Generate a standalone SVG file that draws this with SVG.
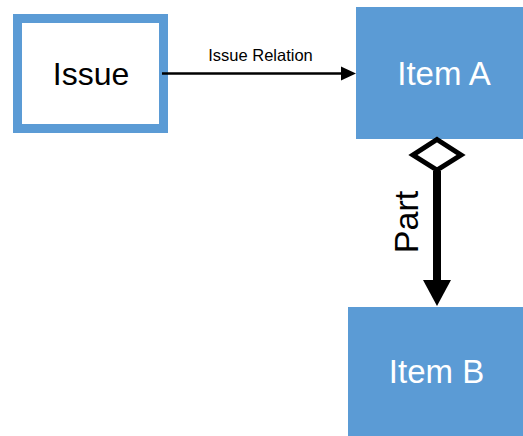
<svg xmlns="http://www.w3.org/2000/svg" width="523" height="436" viewBox="0 0 523 436">
<style>
.blue{fill:#5B9BD5}
.lbl{font-family:"Liberation Sans",Arial,sans-serif;text-anchor:middle}
</style>
<rect width="523" height="436" fill="#ffffff"/>
<g id="issue">
<rect x="17.5" y="18.5" width="146" height="110" fill="#ffffff" stroke="#5B9BD5" stroke-width="9"/>
<text class="lbl" x="91" y="85" font-size="32" fill="#000000">Issue</text>
</g>
<g id="itemA">
<rect class="blue" x="356" y="7" width="170" height="132"/>
<text class="lbl" x="444" y="85" font-size="33" fill="#ffffff">Item A</text>
</g>
<g id="itemB">
<rect class="blue" x="348" y="307" width="180" height="132"/>
<text class="lbl" x="436.5" y="383" font-size="33" fill="#ffffff">Item B</text>
</g>
<g id="connectors">
<line x1="162" y1="73.5" x2="343" y2="73.5" stroke="#000" stroke-width="2.5"/>
<polygon points="341,66.5 356,73.5 341,80.5" fill="#000"/>
<text class="lbl" x="260.5" y="61" font-size="16.5" fill="#000">Issue Relation</text>
<polygon points="437,139.5 461,155 437,170 413,155" fill="#fff" stroke="#000" stroke-width="5" stroke-linejoin="miter"/>
<line x1="437" y1="171" x2="437" y2="284" stroke="#000" stroke-width="8"/>
<polygon points="423,280 451,280 437,306" fill="#000"/>
<text class="lbl" x="0" y="0" font-size="34" fill="#000" transform="translate(418 222) rotate(-90)">Part</text>
</g>
</svg>
